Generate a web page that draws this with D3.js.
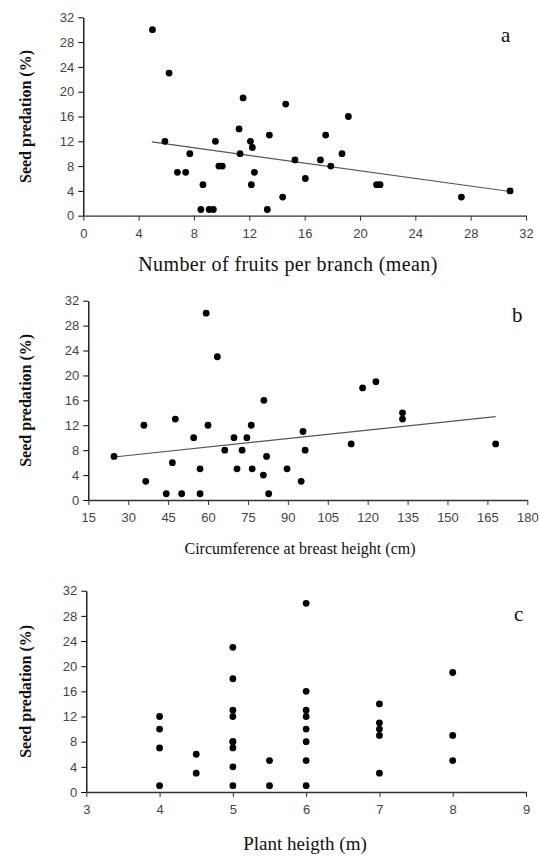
<!DOCTYPE html>
<html>
<head>
<meta charset="utf-8">
<script src="https://cdn.jsdelivr.net/npm/d3@7"></script>
<style>
  body { margin: 0; background: #fff; }
  svg { display: block; }
  .tick text { font-family: "Liberation Sans", Arial, sans-serif; font-size: 13px; fill: #444; }
  .ytitle { font-family: "Liberation Serif", "Times New Roman", serif; font-size: 16px; font-weight: bold; fill: #111; }
  .xtitle { font-family: "Liberation Serif", "Times New Roman", serif; fill: #111; }
  .panel { font-family: "Liberation Serif", "Times New Roman", serif; font-size: 21px; fill: #111; }
</style>
</head>
<body>
<svg id="chart" width="539" height="856"></svg>
<script>
// panel a: number of fruits per branch vs seed predation
const fruitsX = [5, 6.2, 5.9, 6.8, 7.4, 7.7, 8.65, 8.5, 9.1, 9.4, 9.55, 9.8, 10.05, 11.26, 11.33, 11.55, 12.08, 12.22, 12.37, 12.15, 13.3, 13.45, 14.63, 19.16, 17.52, 18.7, 15.3, 17.14, 17.89, 16.05, 21.2, 21.45, 14.41, 27.33, 30.85];
const fruitsY = [30, 23, 12, 7, 7, 10, 5, 1, 1, 1, 12, 8, 8, 14, 10, 19, 12, 11, 7, 5, 1, 13, 18, 16, 13, 10, 9, 9, 8, 6, 5, 5, 3, 3, 4];
const fruitsTrendX = [4.95, 30.85];
const fruitsTrendY = [11.9, 3.9];

// panel b: circumference at breast height vs seed predation
const cbhX = [24.66, 35.9, 36.6, 44.3, 46.6, 47.7, 50.1, 54.6, 57, 57, 59.3, 60, 63.5, 66.3, 69.75, 70.9, 72.8, 74.6, 76.25, 76.6, 81, 80.8, 82, 82.8, 89.7, 95, 95.7, 96.5, 113.8, 118.1, 123.1, 133.1, 133.1, 168.1];
const cbhY = [7, 12, 3, 1, 6, 13, 1, 10, 5, 1, 30, 12, 23, 8, 10, 5, 8, 10, 12, 5, 16, 4, 7, 1, 5, 3, 11, 8, 9, 18, 19, 14, 13, 9];
const cbhTrendX = [24.66, 168.1];
const cbhTrendY = [6.9, 13.4];

// panel c: plant height vs seed predation
const heightX = [4, 4, 4, 4, 4.5, 4.5, 5, 5, 5, 5, 5, 5, 5, 5, 5, 5.5, 5.5, 6, 6, 6, 6, 6, 6, 6, 6, 7, 7, 7, 7, 7, 8, 8, 8];
const heightY = [12, 10, 7, 1, 6, 3, 23, 18, 13, 12, 8, 8, 7, 4, 1, 5, 1, 30, 16, 13, 12, 10, 8, 5, 1, 14, 11, 10, 9, 3, 19, 9, 5];

const yTicks = [0, 4, 8, 12, 16, 20, 24, 28, 32];
const fruitsTicks = [0, 4, 8, 12, 16, 20, 24, 28, 32];
const cbhTicks = [15, 30, 45, 60, 75, 90, 105, 120, 135, 150, 165, 180];
const heightTicks = [3, 4, 5, 6, 7, 8, 9];

const svg = d3.select("#chart");

function drawPanel(opt) {
  const g = svg.append("g");
  const x = d3.scaleLinear().domain(opt.xDomain).range([opt.left, opt.right]);
  const y = d3.scaleLinear().domain([0, 32]).range([opt.bottom, opt.top]);

  const yAxis = g.append("g")
    .attr("transform", "translate(" + opt.left + ",0)")
    .call(d3.axisLeft(y).tickValues(yTicks).tickFormat(d3.format("d")).tickSize(5).tickPadding(4).tickSizeOuter(0));
  yAxis.select(".domain").attr("stroke", "#000").attr("stroke-width", 1.3);
  yAxis.selectAll(".tick line").attr("stroke", "#000");

  const xAxis = g.append("g")
    .attr("transform", "translate(0," + opt.bottom + ")")
    .call(d3.axisBottom(x).tickValues(opt.xTicks).tickFormat(d3.format("d")).tickSize(5).tickPadding(8).tickSizeOuter(0));
  xAxis.select(".domain").attr("stroke", "#333").attr("stroke-width", 1.3);
  xAxis.selectAll(".tick line").attr("stroke", "#333");

  if (opt.trendX) {
    g.append("line")
      .attr("x1", x(opt.trendX[0])).attr("y1", y(opt.trendY[0]))
      .attr("x2", x(opt.trendX[1])).attr("y2", y(opt.trendY[1]))
      .attr("stroke", "#555").attr("stroke-width", 1.2);
  }

  g.selectAll("circle")
    .data(opt.xs.map((v, i) => ({x: v, y: opt.ys[i]})))
    .enter()
    .append("circle")
    .attr("cx", d => x(d.x))
    .attr("cy", d => y(d.y))
    .attr("r", 3.4)
    .attr("fill", "#000");

  g.append("text")
    .attr("class", "ytitle")
    .attr("text-anchor", "middle")
    .attr("transform", "translate(" + 31 + "," + ((opt.top + opt.bottom) / 2) + ") rotate(-90)")
    .text("Seed predation (%)");

  g.append("text")
    .attr("class", "xtitle")
    .attr("text-anchor", "middle")
    .attr("x", opt.titleX)
    .attr("y", opt.bottom + opt.titleOffset)
    .style("font-size", opt.titleSize + "px")
    .style("letter-spacing", opt.titleSpacing + "px")
    .text(opt.xTitle);

  g.append("text")
    .attr("class", "panel")
    .attr("x", opt.letterX)
    .attr("y", opt.letterY)
    .text(opt.letter);
}

drawPanel({
  xs: fruitsX, ys: fruitsY, trendX: fruitsTrendX, trendY: fruitsTrendY,
  xDomain: [0, 32], xTicks: fruitsTicks,
  left: 83.3, right: 526, top: 17.3, bottom: 215.7,
  xTitle: "Number of fruits per branch (mean)", titleX: 288, titleOffset: 55,
  titleSize: 20, titleSpacing: 0.4,
  letter: "a", letterX: 501, letterY: 42
});

drawPanel({
  xs: cbhX, ys: cbhY, trendX: cbhTrendX, trendY: cbhTrendY,
  xDomain: [15, 180], xTicks: cbhTicks,
  left: 88.3, right: 527.3, top: 300.7, bottom: 500,
  xTitle: "Circumference at breast height (cm)", titleX: 300, titleOffset: 54,
  titleSize: 16, titleSpacing: 0,
  letter: "b", letterX: 512, letterY: 322
});

drawPanel({
  xs: heightX, ys: heightY,
  xDomain: [3, 9], xTicks: heightTicks,
  left: 86.3, right: 526, top: 590.7, bottom: 792,
  xTitle: "Plant heigth (m)", titleX: 305, titleOffset: 58,
  titleSize: 19, titleSpacing: 0,
  letter: "c", letterX: 514, letterY: 621
});
</script>
</body>
</html>
